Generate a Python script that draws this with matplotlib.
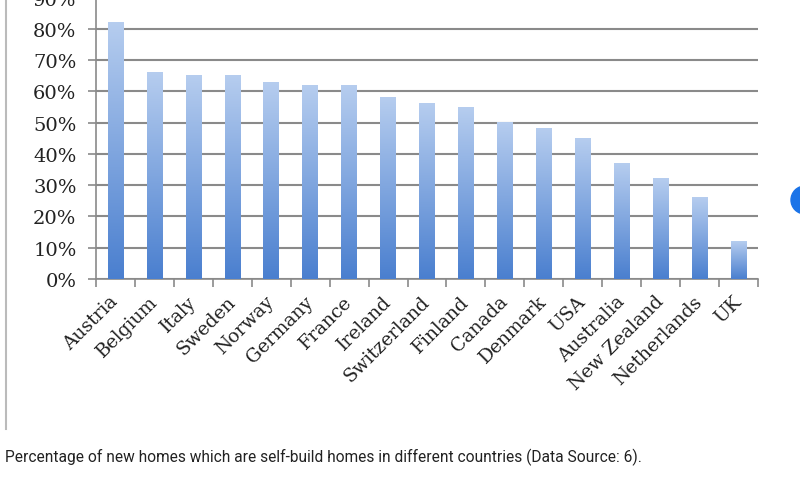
import matplotlib
matplotlib.use("Agg")
import matplotlib.pyplot as plt
import numpy as np
from matplotlib.colors import LinearSegmentedColormap
from matplotlib.patches import Ellipse
from matplotlib.lines import Line2D

countries = ["Austria", "Belgium", "Italy", "Sweden", "Norway", "Germany", "France",
             "Ireland", "Switzerland", "Finland", "Canada", "Denmark", "USA",
             "Australia", "New Zealand", "Netherlands", "UK"]
self_build_pct = [82, 66, 65, 65, 63, 62, 62, 58, 56, 55, 50, 48, 45, 37, 32, 26, 12]
y_ticks = [0, 10, 20, 30, 40, 50, 60, 70, 80, 90]
caption = "Percentage of new homes which are self-build homes in different countries (Data Source: 6)."

fig = plt.figure(figsize=(8, 4.81), dpi=100)
fig.patch.set_facecolor("white")
ax = fig.add_axes([0.12, 0.418, 0.8275, 0.585])

x = np.arange(len(countries))
bars = ax.bar(x, self_build_pct, width=0.4, color="none", edgecolor="none", zorder=3)

# vertical gradient per bar: light on top, darker at bottom
cmap = LinearSegmentedColormap.from_list("barfade", ["#4a7fcf", "#b6cdef"])
grad = np.linspace(0, 1, 256).reshape(-1, 1)
for b in bars:
    x0, w, h = b.get_x(), b.get_width(), b.get_height()
    ax.imshow(grad, cmap=cmap, origin="lower", aspect="auto",
              extent=[x0, x0 + w, 0, h], zorder=3)

ax.set_xlim(-0.5, len(countries) - 0.5)
ax.set_ylim(0, 90)
ax.set_yticks(y_ticks)
ax.set_yticklabels([f"{v}%" for v in y_ticks], family="DejaVu Serif", fontsize=14, color="#222222")
ax.yaxis.grid(True, color="#8a8a8a", linewidth=1.5, zorder=1)
ax.set_axisbelow(True)

ax.set_xticks(x)
ax.set_xticklabels(countries, rotation=45, ha="right", va="center", rotation_mode="anchor",
                   family="DejaVu Serif", fontsize=13.5, color="#222222")
ax.tick_params(axis="x", which="major", length=0, pad=14)
ax.set_xticks(np.arange(-0.5, len(countries), 1), minor=True)
ax.tick_params(axis="x", which="minor", length=6, width=1.2, color="#8a8a8a", direction="out")
ax.tick_params(axis="y", length=6, width=1.2, color="#8a8a8a", pad=8)

for side in ["top", "right"]:
    ax.spines[side].set_visible(False)
for side in ["left", "bottom"]:
    ax.spines[side].set_color("#8a8a8a")
    ax.spines[side].set_linewidth(1.2)

# page elements around the chart image
fig.add_artist(Line2D([6 / 800, 6 / 800], [1, 1 - 430 / 481], color="#bbbbbb", linewidth=1.5))
fig.add_artist(Ellipse((805 / 800, 1 - 201 / 481), 28 / 800, 28 / 481,
                       transform=fig.transFigure, color="#1a73e8", clip_on=False))
fig.text(5 / 800, 1 - 457 / 481, caption, family="Roboto", fontsize=11.2, color="#222222",
         ha="left", va="center")

fig.savefig("out.png", dpi=100, facecolor="white")
